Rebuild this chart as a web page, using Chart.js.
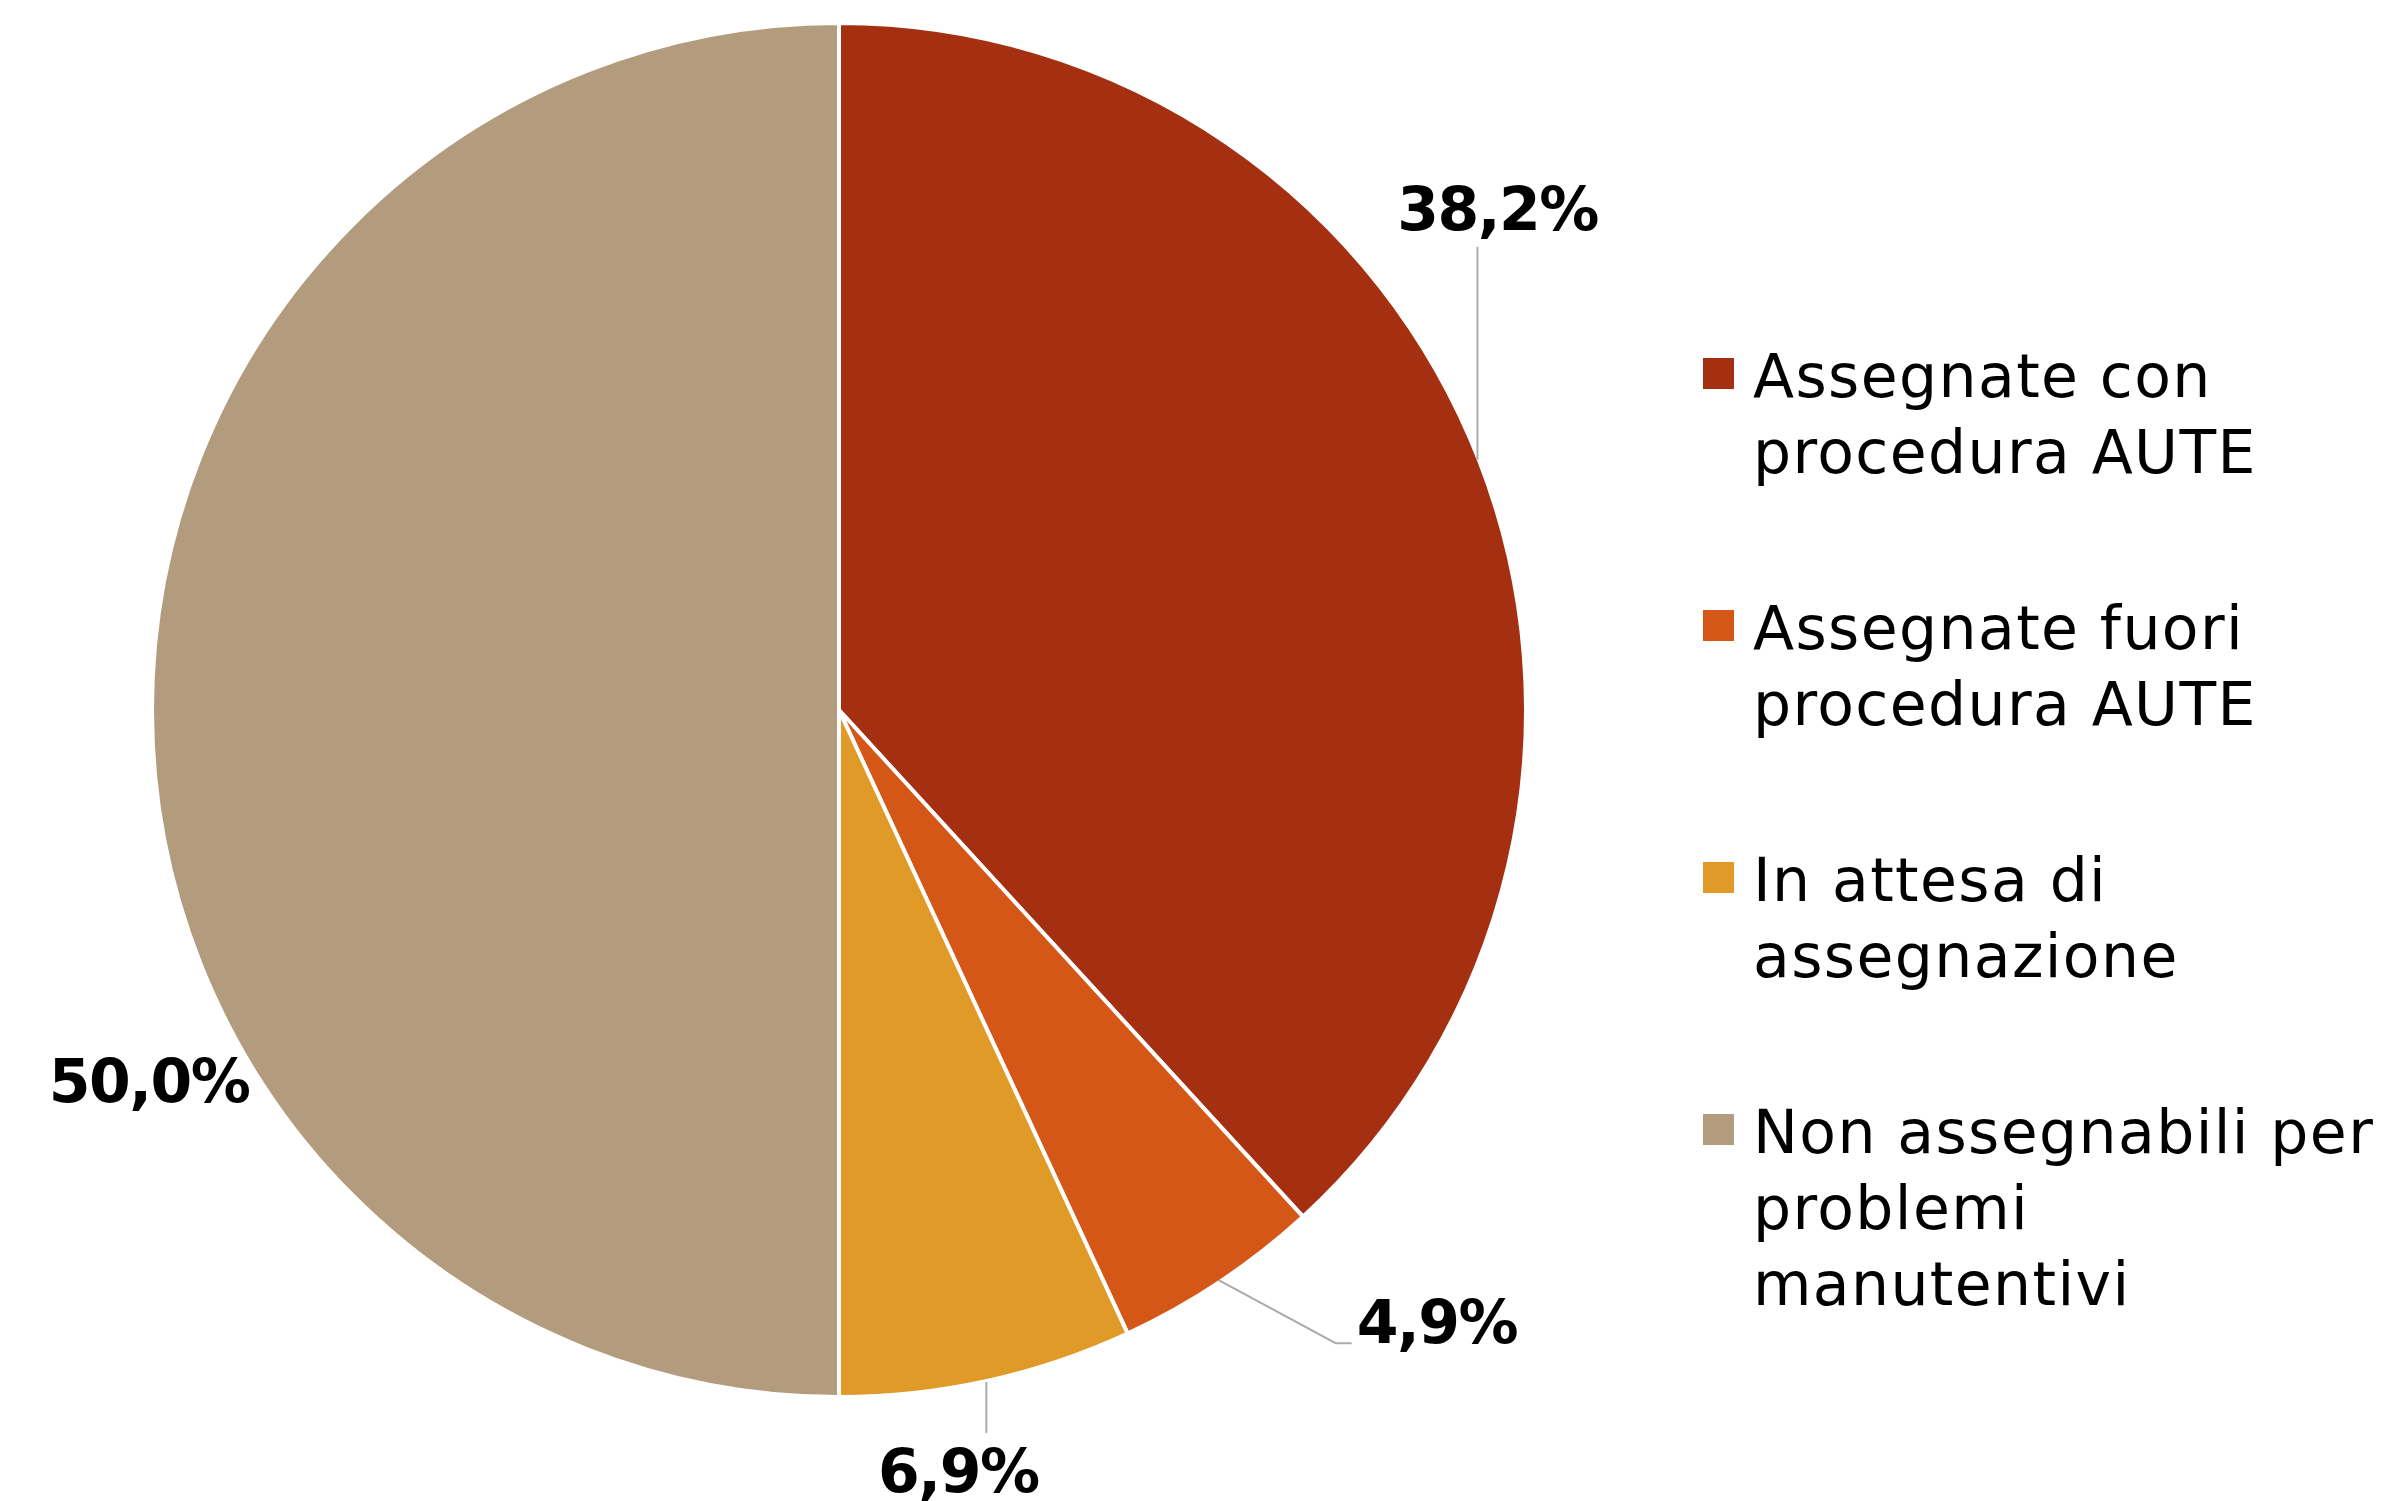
<!DOCTYPE html>
<html>
<head>
<meta charset="utf-8">
<script src="https://cdn.jsdelivr.net/npm/chart.js@4.4.0/dist/chart.umd.min.js"></script>
<style>
  html, body { margin: 0; padding: 0; background: #fff; }
  #wrap { width: 2392px; height: 1501px; position: relative; }
</style>
</head>
<body>
<div id="wrap"><canvas id="chart1"></canvas></div>
<script>
// categories (one array entry per legend line)
const categories = [
  ['Assegnate con', 'procedura AUTE'],
  ['Assegnate fuori', 'procedura AUTE'],
  ['In attesa di', 'assegnazione'],
  ['Non assegnabili per', 'problemi', 'manutentivi']
];
const shares = [38.2, 4.9, 6.9, 50.0];
const sliceColors = ['#a52f11', '#d55718', '#e09a28', '#b39c7d'];

// how each percentage label hangs off its slice
const leaderLayout = [
  { kind: 'up', gap: 2, len: 213, textDx: 20, textGap: 17 },
  { kind: 'elbow', dx: 117, dy: 63, tail: 16, textGap: 5 },
  { kind: 'down', gap: 3, len: 51, textDx: -28, textGap: 59 },
  { kind: 'free', angle: 147.9, dist: 11, baseDy: 22 }
];

const legendLayout = { boxX: 1703, box: 31, textX: 1753, firstBase: 397, lineH: 76, step: 252 };

const fmtPct = v => v.toFixed(1).replace('.', ',') + '%';

const sliceLabels = {
  id: 'sliceLabels',
  afterDatasetsDraw(chart) {
    const ctx = chart.ctx;
    const arcs = chart.getDatasetMeta(0).data;
    ctx.save();
    ctx.font = 'bold 60px "DejaVu Sans"';
    ctx.letterSpacing = '-1.5px';
    ctx.fillStyle = '#000';
    ctx.strokeStyle = '#ababab';
    ctx.lineWidth = 2;
    arcs.forEach((arc, i) => {
      const p = arc.getProps(['x', 'y', 'startAngle', 'endAngle', 'outerRadius'], true);
      const lay = leaderLayout[i];
      const mid = lay.angle !== undefined ? lay.angle * Math.PI / 180 : (p.startAngle + p.endAngle) / 2;
      const r = p.outerRadius - 2;
      const ex = p.x + Math.cos(mid) * r;
      const ey = p.y + Math.sin(mid) * r;
      const text = fmtPct(shares[i]);

      if (lay.kind === 'up') {
        const top = ey - lay.gap - lay.len;
        ctx.beginPath();
        ctx.moveTo(ex, ey - lay.gap);
        ctx.lineTo(ex, top);
        ctx.stroke();
        ctx.textAlign = 'center';
        ctx.textBaseline = 'alphabetic';
        ctx.fillText(text, ex + lay.textDx, top - lay.textGap);
      } else if (lay.kind === 'elbow') {
        const kx = ex + lay.dx, ky = ey + lay.dy;
        ctx.beginPath();
        ctx.moveTo(ex, ey);
        ctx.lineTo(kx, ky);
        ctx.lineTo(kx + lay.tail, ky);
        ctx.stroke();
        ctx.textAlign = 'left';
        ctx.textBaseline = 'alphabetic';
        ctx.fillText(text, kx + lay.tail + lay.textGap, ky);
      } else if (lay.kind === 'down') {
        const bottom = ey + lay.gap + lay.len;
        ctx.beginPath();
        ctx.moveTo(ex, ey + lay.gap);
        ctx.lineTo(ex, bottom);
        ctx.stroke();
        ctx.textAlign = 'center';
        ctx.textBaseline = 'alphabetic';
        ctx.fillText(text, ex + lay.textDx, bottom + lay.textGap);
      } else {
        const tx = p.x + Math.cos(mid) * (r + lay.dist);
        const ty = p.y + Math.sin(mid) * (r + lay.dist);
        ctx.textAlign = 'right';
        ctx.textBaseline = 'alphabetic';
        ctx.fillText(text, tx, ty + lay.baseDy);
      }
    });
    ctx.restore();
  }
};

const sideLegend = {
  id: 'sideLegend',
  afterDraw(chart) {
    const ctx = chart.ctx;
    const L = legendLayout;
    ctx.save();
    ctx.font = '60px "DejaVu Sans"';
    ctx.letterSpacing = '1.4px';
    ctx.textAlign = 'left';
    ctx.textBaseline = 'alphabetic';
    categories.forEach((lines, i) => {
      const base = L.firstBase + i * L.step;
      ctx.fillStyle = sliceColors[i];
      ctx.fillRect(L.boxX, base - 39, L.box, L.box);
      ctx.fillStyle = '#000';
      lines.forEach((line, j) => ctx.fillText(line, L.textX, base + j * L.lineH));
    });
    ctx.restore();
  }
};

new Chart(document.getElementById('chart1'), {
  type: 'pie',
  data: {
    labels: categories.map(c => c.join(' ')),
    datasets: [{
      data: shares,
      backgroundColor: sliceColors,
      borderColor: '#ffffff',
      borderWidth: 4
    }]
  },
  options: {
    responsive: true,
    maintainAspectRatio: false,
    animation: false,
    events: [],
    layout: { padding: { left: 150, top: 21, right: 864, bottom: 102 } },
    plugins: {
      legend: { display: false },
      tooltip: { enabled: false }
    }
  },
  plugins: [sliceLabels, sideLegend]
});
</script>
</body>
</html>
